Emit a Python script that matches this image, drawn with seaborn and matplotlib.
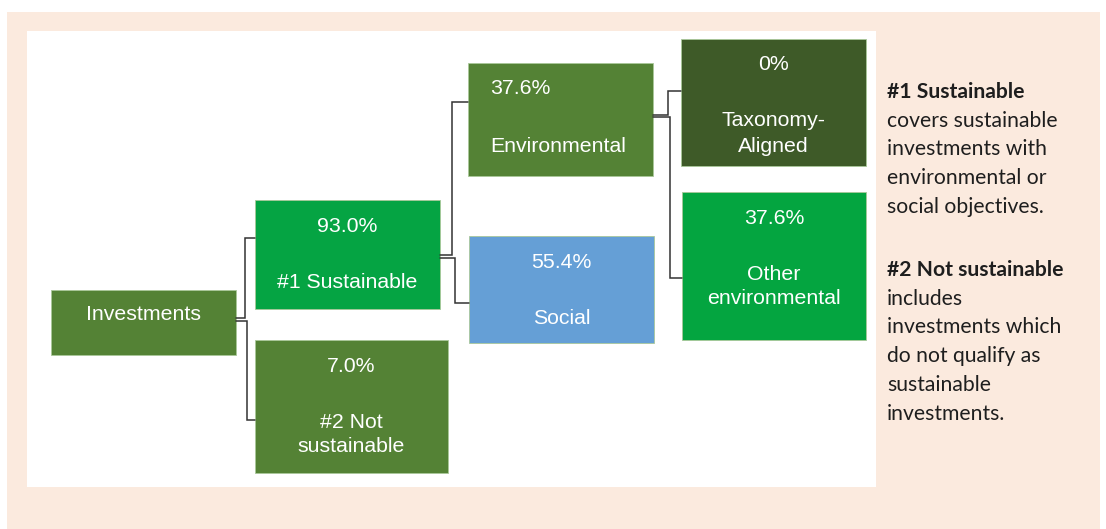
import matplotlib
matplotlib.use("Agg")
import matplotlib.pyplot as plt
from matplotlib.patches import Rectangle
import seaborn as sns

# Data: tree nodes, their shares and labels
node_names = ["Investments", "#1 Sustainable", "#2 Not sustainable", "Environmental",
              "Social", "Taxonomy-Aligned", "Other environmental"]
node_shares = [None, "93.0%", "7.0%", "37.6%", "55.4%", "0%", "37.6%"]
node_labels = ["Investments", "#1 Sustainable", "#2 Not\nsustainable", "Environmental",
               "Social", "Taxonomy-\nAligned", "Other\nenvironmental"]
edges = [(0, 1), (0, 2), (1, 3), (1, 4), (3, 5), (3, 6)]

side_heads = ["#1 Sustainable", "#2 Not sustainable"]
side_bodies = [["covers sustainable", "investments with", "environmental or", "social objectives."],
               ["includes", "investments which", "do not qualify as", "sustainable", "investments."]]

# Layout (pixels): x0, y0, x1, y1, colour, text alignment
layout = [
    (51, 290, 236, 355, "#548235", "center"),
    (255, 200, 440, 309, "#05A443", "center"),
    (255, 340, 448, 473, "#548235", "center"),
    (468, 63, 653, 176, "#548235", "left"),
    (469, 236, 654, 343, "#659FD6", "center"),
    (681, 39, 866, 166, "#3E5A28", "center"),
    (682, 192, 866, 340, "#04A540", "center"),
]
# connector elbows: (start y, elbow x, end y)
elbows = [(318, 245, 238), (321, 247, 420), (255, 452, 102), (258, 455, 303),
          (115, 668, 91), (117, 670, 278)]

sns.set_theme(style="white")
plt.rcParams['font.family'] = ['Liberation Sans', 'DejaVu Sans']

fig = plt.figure(figsize=(11.06, 5.29), dpi=100)
ax = fig.add_axes([0, 0, 1, 1])
ax.set_xlim(0, 1106)
ax.set_ylim(529, 0)
ax.axis("off")

ax.add_patch(Rectangle((7, 12), 1093, 530, color="#FBEADE", lw=0))
ax.add_patch(Rectangle((27, 31), 849, 456, color="white", lw=0))

fs = 15.3

for (a, b), (y0, ex, y1) in zip(edges, elbows):
    xs = layout[a][2]
    xe = layout[b][0]
    ax.plot([xs, ex, ex, xe], [y0, y0, y1, y1], color="#333333", lw=1.1, solid_joinstyle="miter")

for i, (x0, y0, x1, y1, col, align) in enumerate(layout):
    ax.add_patch(Rectangle((x0, y0), x1 - x0, y1 - y0, facecolor=col,
                           edgecolor="#A9C89A", lw=0.6))
    cx = (x0 + x1) / 2
    tx = cx if align == "center" else x0 + 22
    if node_shares[i] is None:
        ax.text(tx, y0 + 24, node_labels[i], color="white", fontsize=fs,
                ha=align, va="center")
        continue
    ax.text(tx, y0 + 26, node_shares[i], color="white", fontsize=fs, ha=align, va="center")
    lines = node_labels[i].split("\n")
    if len(lines) == 1:
        ax.text(tx, y0 + 83, lines[0], color="white", fontsize=fs, ha=align, va="center")
    else:
        for k, ln in enumerate(lines):
            ax.text(tx, y0 + 82 + 25 * k, ln, color="white", fontsize=fs, ha=align, va="center")

side_font = ['Lato', 'DejaVu Sans']
ys = [92, 270]
for head, body, y in zip(side_heads, side_bodies, ys):
    ax.text(887, y, head, fontsize=15.2, fontweight="bold", color="#1E1E1E",
            ha="left", va="center", family=side_font)
    for k, ln in enumerate(body):
        ax.text(887, y + 28.7 * (k + 1), ln, fontsize=15.2, color="#1E1E1E",
                ha="left", va="center", family=side_font)

fig.savefig("out.png", dpi=100)
